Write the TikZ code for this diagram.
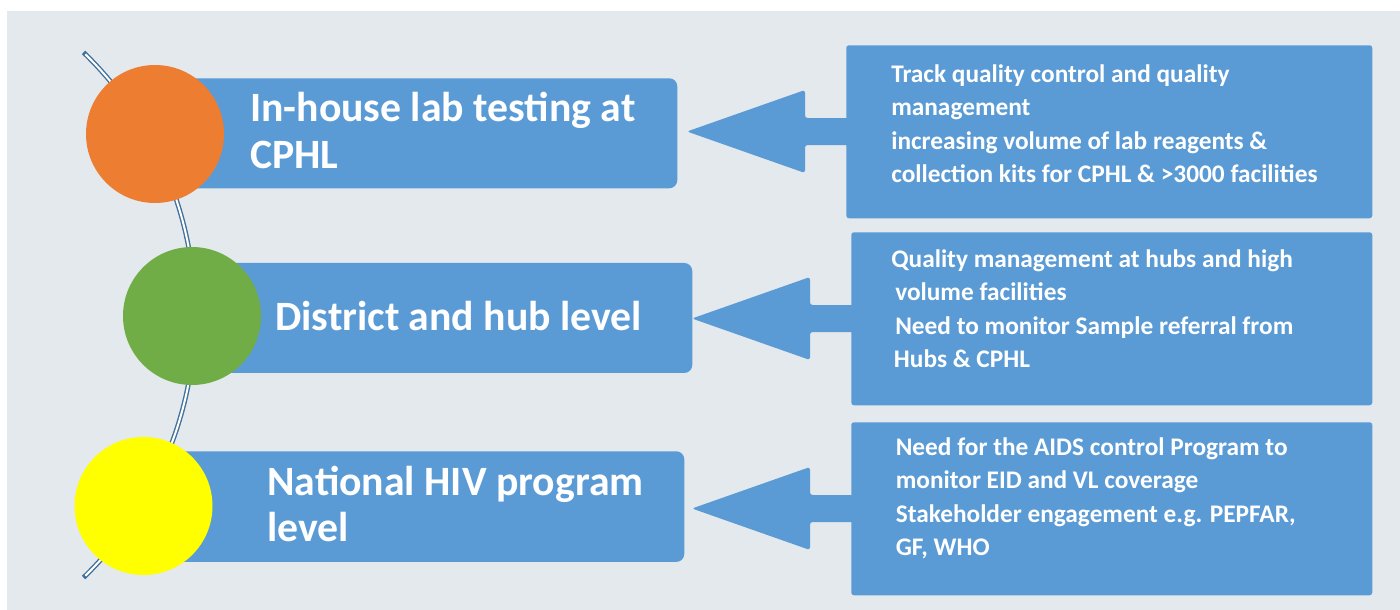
\documentclass[tikz,border=0pt]{standalone}
\usepackage{fontspec}
\setmainfont{Carlito}
\usetikzlibrary{calc}
\definecolor{bg}{RGB}{228,233,237}
\definecolor{boxblue}{RGB}{91,155,213}
\definecolor{lineblue}{RGB}{65,113,156}
\definecolor{dotorange}{RGB}{237,125,49}
\definecolor{dotgreen}{RGB}{112,173,71}
\definecolor{dotyellow}{RGB}{255,255,0}

\begin{document}
\begin{tikzpicture}[x=0.75pt,y=-0.75pt,
  levelbar/.style={anchor=north west, fill=boxblue, inner sep=0pt, rounded corners=6pt},
  dot/.style={circle, inner sep=0pt, minimum size=103.5pt},
  leveltext/.style={anchor=base west, inner sep=0pt, text=white, align=left,
    font=\fontsize{31.3}{35}\selectfont\bfseries},
  notebox/.style={anchor=north west, inner sep=0pt, fill=boxblue, rounded corners=2pt,
    minimum height=129.75pt},
  notetext/.style={anchor=base west, inner sep=0pt, text=white, align=left,
    font=\fontsize{19}{25.1}\selectfont\bfseries},
  callout/.style={fill=boxblue, rounded corners=2pt}
]
\useasboundingbox (0,0) rectangle (1400,610);
\fill[white] (0,0) rectangle (1400,610);
\fill[bg] (7,11) rectangle (1400,610);

% timeline arc (double stroke with closed ends)
\draw[lineblue, line width=3.6pt] plot[domain=-46:46, samples=90]
  ({-170+365*cos(\x)},{315+365*sin(\x)});
\draw[white, line width=1.5pt] plot[domain=-45.6:45.6, samples=90]
  ({-170+365*cos(\x)},{315+365*sin(\x)});

% level bars
\node[levelbar, minimum width=391.5pt, minimum height=82.5pt] (bar1) at (155,78) {};
\node[levelbar, minimum width=375pt,   minimum height=82.5pt] (bar2) at (192,262.7) {};
\node[levelbar, minimum width=405.4pt, minimum height=83pt]   (bar3) at (143.5,451) {};

% level dots
\node[dot, fill=dotorange] (dot1) at (155,134) {};
\node[dot, fill=dotgreen]  (dot2) at (192,316) {};
\node[dot, fill=dotyellow] (dot3) at (143.5,506) {};

% level titles (anchored on the baseline of the last line)
\node[leveltext] (title1) at (250,168.3) {In-house lab testing at\\CPHL};
\node[leveltext] (title2) at (275,330) {District and hub level};
\node[leveltext] (title3) at (267,541.7) {National HIV program\\level};

% note boxes
\node[notebox, minimum width=394.5pt]  (note1) at (846,45) {};
\node[notebox, minimum width=390.75pt] (note2) at (851,232) {};
\node[notebox, minimum width=390.75pt] (note3) at (851,422) {};

% callout arrows pointing from each note box to its level bar
\coordinate (tip1) at (687,131.5);
\coordinate (tip2) at (692,318.5);
\coordinate (tip3) at (692,508.5);
\foreach \n in {1,2,3}{
  \fill[callout] ($(note\n.west)+(4,-13.5)$) -- ($(tip\n)+(118,-13.5)$)
    -- ($(tip\n)+(118,-41.5)$) -- (tip\n) -- ($(tip\n)+(118,41.5)$)
    -- ($(tip\n)+(118,13.5)$) -- ($(note\n.west)+(4,13.5)$) -- cycle;
}

% note texts (anchored on the baseline of the last line)
\node[notetext] (text1) at (891,182.5) {Track quality control and quality\\management\\increasing volume of lab reagents \&\\collection kits for CPHL \& >3000 facilities};
\node[notetext] (text2) at (891,367.5) {Quality management at hubs and high\\\hspace*{3pt}volume facilities\\\hspace*{3pt}Need to monitor Sample referral from\\\hspace*{2pt}Hubs \& CPHL};
\node[notetext] (text3) at (895.5,555.5) {Need for the AIDS control Program to\\monitor EID and VL coverage\\Stakeholder engagement e.g. PEPFAR,\\GF, WHO};
\end{tikzpicture}
\end{document}
